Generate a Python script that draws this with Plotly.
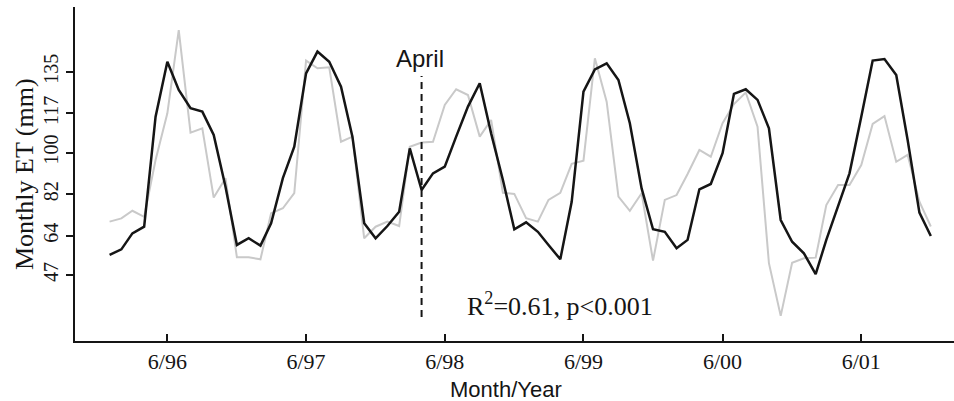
import pandas as pd
import plotly.graph_objects as go

# Monthly data, Jan 1996 - Dec 2001
months = pd.date_range("1996-01-01", periods=72, freq="MS")

et_modeled = [  # black line
    55.7, 58.1, 65.0, 67.9, 115.5, 139.3, 127.1, 119.2, 117.7, 107.6, 85.2, 60.0,
    62.9, 59.7, 69.4, 88.9, 102.5, 134.3, 143.7, 139.3, 128.5, 106.9, 69.4, 62.9,
    68.2, 74.4, 101.8, 83.8, 91.0, 93.9, 106.9, 119.9, 130.0, 108.3, 88.1, 66.8,
    69.8, 65.7, 60.0, 53.8, 78.7, 126.4, 136.0, 138.6, 131.4, 112.7, 84.5, 66.8,
    65.7, 58.6, 62.2, 84.1, 86.4, 99.7, 125.4, 127.4, 122.8, 110.5, 70.8, 61.4,
    56.4, 47.4, 62.2, 76.6, 91.0, 115.5, 139.8, 140.5, 133.6, 105.4, 74.0, 63.9,
]

et_observed = [  # grey line
    70.1, 71.5, 74.8, 72.2, 96.8, 117.0, 153.0, 108.6, 110.5, 80.5, 88.9, 54.7,
    54.7, 53.8, 73.7, 75.9, 82.4, 139.8, 136.5, 136.9, 104.7, 106.9, 62.9, 67.9,
    70.1, 68.2, 102.5, 104.3, 104.7, 120.6, 127.4, 124.9, 106.9, 114.1, 82.6, 82.1,
    71.6, 70.1, 79.5, 82.6, 95.1, 96.5, 140.8, 122.0, 80.9, 74.8, 82.4, 53.2,
    79.5, 81.6, 90.7, 101.1, 98.2, 112.7, 121.0, 126.0, 111.2, 52.1, 29.3, 52.3,
    54.2, 54.5, 77.3, 86.0, 86.0, 94.6, 112.4, 115.8, 96.0, 99.0, 78.7, 68.0,
]

y_tick_vals = [47, 64, 82, 100, 117, 135]
x_tick_vals = ["1996-06-01", "1997-06-01", "1998-06-01", "1999-06-01", "2000-06-01", "2001-06-01"]
x_tick_text = ["6/96", "6/97", "6/98", "6/99", "6/00", "6/01"]

april_date = "1998-04-01"
april_span = [28.8, 133.1]

SERIF = "Liberation Serif, Times New Roman, serif"
SANS = "Liberation Sans, Arial, sans-serif"

fig = go.Figure()
fig.add_trace(go.Scatter(x=months, y=et_observed, mode="lines",
                         line=dict(color="#c9c9c9", width=2), showlegend=False))
fig.add_trace(go.Scatter(x=months, y=et_modeled, mode="lines",
                         line=dict(color="#151515", width=2.5), showlegend=False))
fig.add_trace(go.Scatter(x=[april_date, april_date], y=april_span, mode="lines",
                         line=dict(color="#151515", width=2, dash="7px,5px"), showlegend=False))

fig.add_annotation(x=april_date, y=139.5, xref="x", yref="y", text="April",
                   showarrow=False, font=dict(family=SANS, size=24, color="#151515"),
                   xanchor="center", yanchor="middle", xshift=-2, yshift=3)
fig.add_annotation(x="1998-07-23", y=33.5, xref="x", yref="y",
                   text="R<sup>2</sup>=0.61, p&lt;0.001",
                   showarrow=False, font=dict(family=SERIF, size=26, color="#151515"),
                   xanchor="left", yanchor="middle", yshift=2)
fig.add_annotation(x=0, y=0.5, xref="paper", yref="paper", text="Monthly ET (mm)",
                   textangle=-90, showarrow=False, xshift=-51,
                   font=dict(family=SERIF, size=26, color="#151515"),
                   xanchor="center", yanchor="middle")
fig.add_annotation(x=0.49, y=0, xref="paper", yref="paper", text="Month/Year",
                   showarrow=False, yshift=-48,
                   font=dict(family=SANS, size=22, color="#151515"),
                   xanchor="center", yanchor="middle")

fig.update_layout(
    width=954, height=401,
    margin=dict(l=75, r=0, t=7, b=60, autoexpand=False),
    paper_bgcolor="white", plot_bgcolor="white",
    xaxis=dict(type="date", range=["1995-10-02", "2002-01-31"], automargin=False,
               tickvals=x_tick_vals, ticktext=x_tick_text,
               ticks="inside", ticklen=7, tickwidth=2, tickcolor="#151515",
               showline=True, linecolor="#151515", linewidth=2,
               showgrid=False, zeroline=False,
               tickfont=dict(family=SERIF, size=22, color="#151515")),
    yaxis=dict(range=[18.43, 163.0], tickvals=y_tick_vals, automargin=False,
               ticks="outside", ticklen=7, tickwidth=2, tickcolor="#151515",
               showline=True, linecolor="#151515", linewidth=2,
               showgrid=False, zeroline=False, tickangle=-90,
               tickfont=dict(family=SERIF, size=20, color="#151515")),
)

fig.write_html("out.html", config={"displayModeBar": False},
               post_script="document.body.style.margin='0';document.body.style.overflow='hidden';")
